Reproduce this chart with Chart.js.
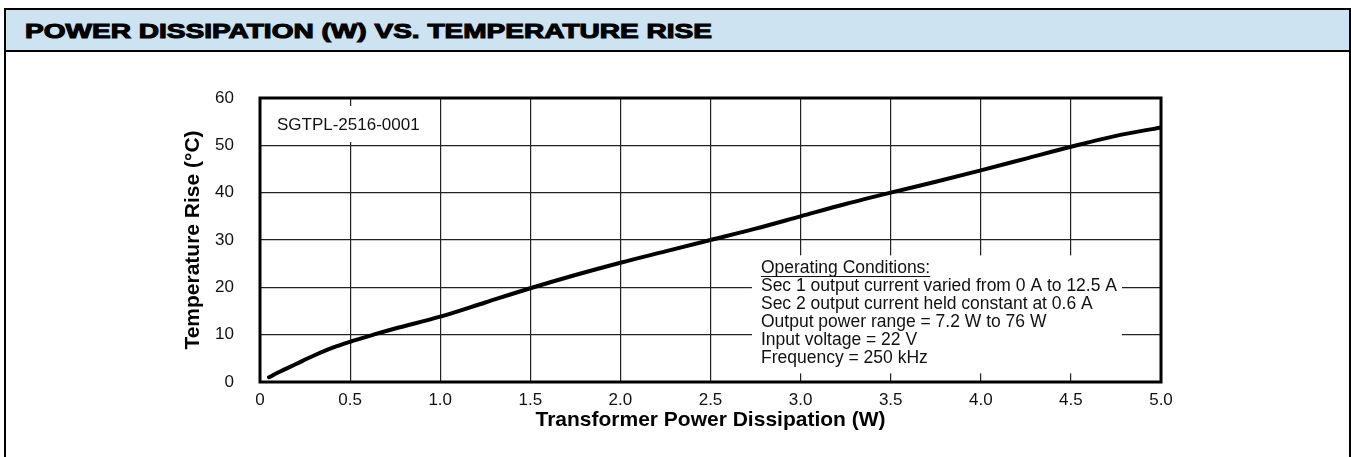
<!DOCTYPE html>
<html>
<head>
<meta charset="utf-8">
<script src="https://cdn.jsdelivr.net/npm/chart.js@4.4.1/dist/chart.umd.min.js"></script>
<style>
  html, body { margin:0; padding:0; background:#fff; width:1351px; height:457px; overflow:hidden; }
  #frame { position:absolute; left:4px; top:8px; width:1343px; height:480px; border:2px solid #000; box-sizing:content-box; }
  #header { position:absolute; left:6px; top:10px; width:1343px; height:40px; background:#cde3f1; border-bottom:2px solid #000; }
  #title { position:absolute; left:25px; top:19px; font-family:"Liberation Sans", Arial, sans-serif; font-weight:bold; font-size:21px; color:#000; white-space:nowrap; transform-origin:0 0; -webkit-text-stroke:1.1px #000; }
  #wrap { position:absolute; left:0; top:0; width:1351px; height:457px; }
</style>
</head>
<body>
<div id="wrap"><canvas id="c" width="1351" height="457"></canvas></div>
<div id="frame"></div>
<div id="header"></div>
<div id="title">POWER DISSIPATION (W) VS. TEMPERATURE RISE</div>
<script>
const powerW = [0.05, 0.1, 0.2, 0.3, 0.4, 0.5, 0.63, 0.75, 1.0, 1.25, 1.5, 1.75, 2.0, 2.25, 2.5, 2.75, 3.0, 3.25, 3.5, 3.75, 4.0, 4.25, 4.5, 4.75, 5.0];
const tempRise = [1.0, 2.0, 3.8, 5.6, 7.2, 8.5, 10.0, 11.3, 13.8, 16.8, 19.8, 22.6, 25.2, 27.6, 30.0, 32.4, 35.0, 37.6, 40.0, 42.3, 44.7, 47.2, 49.7, 52.0, 53.8];
const xTickLabels = ["0", "0.5", "1.0", "1.5", "2.0", "2.5", "3.0", "3.5", "4.0", "4.5", "5.0"];
const yTickLabels = ["0", "10", "20", "30", "40", "50", "60"];
const partLabel = "SGTPL-2516-0001";
const conditionsTitle = "Operating Conditions:";
const conditionLines = [
  "Sec 1 output current varied from 0 A to 12.5 A",
  "Sec 2 output current held constant at 0.6 A",
  "Output power range = 7.2 W to 76 W",
  "Input voltage = 22 V",
  "Frequency = 250 kHz"
];

(function(){
  const t = document.getElementById('title');
  const w = t.getBoundingClientRect().width;
  const target = 687;
  t.style.transform = 'scaleX(' + (target / w) + ')';
})();

const FONT = '"Liberation Sans", Arial, Helvetica, sans-serif';
const points = powerW.map((x, i) => ({x: x, y: tempRise[i]}));

const annotations = {
  id: 'annotations',
  beforeDatasetsDraw(chart) {
    const ctx = chart.ctx;
    const xs = chart.scales.x, ys = chart.scales.y;
    ctx.save();
    ctx.font = '17px ' + FONT;
    const lx = xs.getPixelForValue(0.094), ly = ys.getPixelForValue(54.5);
    const lw = ctx.measureText(partLabel).width;
    ctx.fillStyle = '#fff';
    ctx.fillRect(lx - 8, ly - 18, lw + 14, 36);
    ctx.fillStyle = '#111';
    ctx.textBaseline = 'middle';
    ctx.textAlign = 'left';
    ctx.fillText(partLabel, lx, ly + 1);
    ctx.font = '17.5px ' + FONT;
    const tx = xs.getPixelForValue(2.78), ty = ys.getPixelForValue(24.0);
    const lh = 18;
    const all = [conditionsTitle].concat(conditionLines);
    let mw = 0;
    all.forEach(s => { mw = Math.max(mw, ctx.measureText(s).width); });
    ctx.fillStyle = '#fff';
    ctx.fillRect(tx - 9, ty - 13, mw + 14, lh * (all.length - 1) + 28);
    ctx.fillStyle = '#111';
    all.forEach((s, i) => { ctx.fillText(s, tx, ty + i * lh); });
    const uw = ctx.measureText(conditionsTitle).width;
    ctx.strokeStyle = '#111';
    ctx.lineWidth = 1;
    ctx.beginPath();
    ctx.moveTo(tx, Math.round(ty + 8) + 0.5);
    ctx.lineTo(tx + uw, Math.round(ty + 8) + 0.5);
    ctx.stroke();
    ctx.restore();
  },
  afterDraw(chart) {
    const a = chart.chartArea, ctx = chart.ctx;
    ctx.save();
    ctx.strokeStyle = '#000';
    ctx.lineWidth = 3;
    ctx.strokeRect(a.left, a.top, a.right - a.left, a.bottom - a.top);
    ctx.restore();
  }
};

new Chart(document.getElementById('c'), {
  type: 'line',
  data: {
    datasets: [{
      data: points,
      borderColor: '#000',
      borderWidth: 4,
      pointRadius: 0,
      fill: false,
      cubicInterpolationMode: 'monotone',
      borderCapStyle: 'round'
    }]
  },
  plugins: [annotations],
  options: {
    responsive: false,
    animation: false,
    devicePixelRatio: 1,
    layout: { padding: { left: 160, right: 190, top: 98, bottom: 15 } },
    plugins: { legend: { display: false }, tooltip: { enabled: false } },
    scales: {
      x: {
        type: 'linear', min: 0, max: 5,
        afterFit(s) { s.height = 60; },
        ticks: {
          stepSize: 0.5, padding: 8, color: '#111', maxRotation: 0, autoSkip: false,
          font: { family: FONT, size: 17 },
          callback: (v, i) => xTickLabels[i]
        },
        grid: { color: '#222', lineWidth: 1.2, drawTicks: false },
        border: { display: false },
        title: { display: true, text: 'Transformer Power Dissipation (W)', color: '#000',
          font: { family: FONT, size: 21, weight: 'bold' }, padding: { top: 0, bottom: 9 } }
      },
      y: {
        type: 'linear', min: 0, max: 60,
        afterFit(s) { s.width = 100; },
        ticks: {
          stepSize: 10, padding: 26, color: '#111',
          font: { family: FONT, size: 17 },
          callback: (v, i) => yTickLabels[i]
        },
        grid: { color: '#222', lineWidth: 1.2, drawTicks: false },
        border: { display: false },
        title: { display: true, text: 'Temperature Rise (°C)', color: '#000',
          font: { family: FONT, size: 21, weight: 'bold' }, padding: { top: 21, bottom: 0 } }
      }
    }
  }
});
</script>
</body>
</html>
